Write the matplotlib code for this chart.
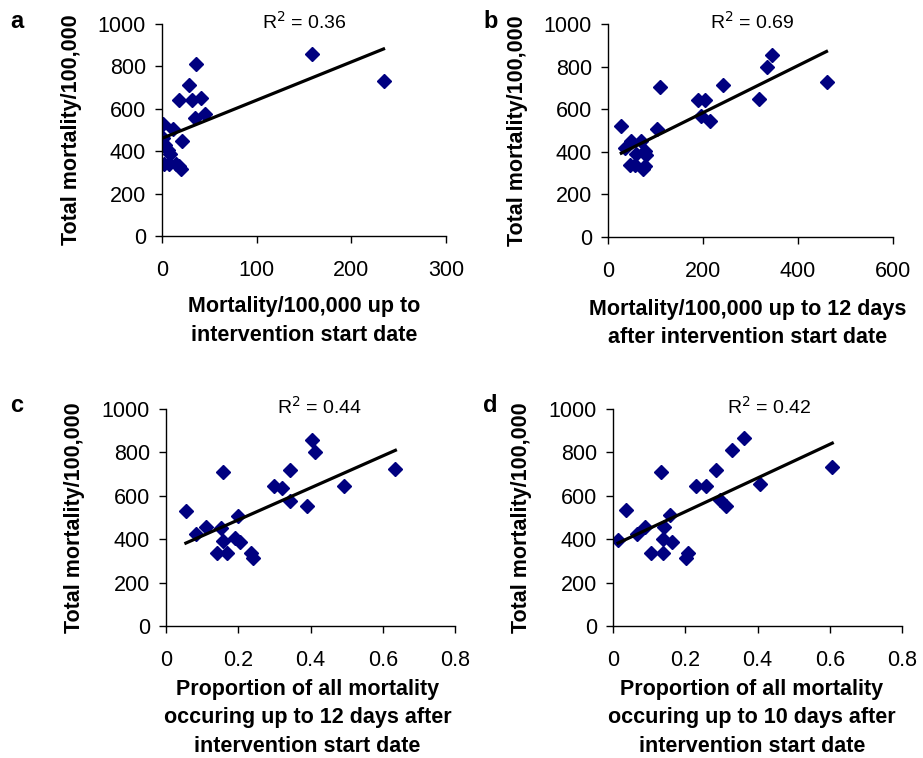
import matplotlib.pyplot as plt
import numpy as np

plt.rcParams['font.family'] = ['Liberation Sans', 'DejaVu Sans']

# Datos
y_total_a = [529, 505, 461, 430, 406, 387, 339, 340, 340, 332, 317, 449,
             643, 713, 643, 811, 650, 556, 576, 858, 729]
x_a = [1.4, 12, 0.7, 3.5, 6, 8.5, 2.5, 7.8, 15, 18, 20, 21,
       17.7, 29, 31.4, 36, 41, 35, 45, 158, 234]

x_b = [28, 35, 49, 70, 58, 77, 79, 46, 56, 74, 77, 103,
       110, 189, 204, 196, 214, 242, 318, 335, 346, 460]
y_b = [521, 420, 452, 452, 388, 404, 385, 339, 339, 319, 331, 505,
       704, 642, 642, 567, 546, 712, 650, 797, 855, 727]

x_c = [0.055, 0.083, 0.112, 0.152, 0.158, 0.158, 0.140, 0.170, 0.191, 0.200, 0.206,
       0.234, 0.240, 0.299, 0.320, 0.343, 0.343, 0.389, 0.403, 0.412, 0.492, 0.635]
y_c = [528, 425, 458, 451, 708, 394, 338, 338, 405, 508, 386,
       338, 312, 646, 635, 717, 574, 551, 858, 802, 646, 723]

x_d = [0.014, 0.037, 0.066, 0.089, 0.134, 0.140, 0.138, 0.106, 0.138, 0.159, 0.164,
       0.207, 0.203, 0.229, 0.258, 0.286, 0.297, 0.314, 0.330, 0.362, 0.406, 0.607]
y_d = [397, 535, 425, 458, 708, 455, 400, 338, 338, 512, 386,
       338, 312, 646, 646, 717, 582, 551, 809, 866, 655, 732]

r2_labels = ['0.36', '0.69', '0.44', '0.42']
letters = ['a', 'b', 'c', 'd']
xlabels = ['Mortality/100,000 up to\nintervention start date',
           'Mortality/100,000 up to 12 days\nafter intervention start date',
           'Proportion of all mortality\noccuring up to 12 days after\nintervention start date',
           'Proportion of all mortality\noccuring up to 10 days after\nintervention start date']
xticks = [[0, 100, 200, 300], [0, 200, 400, 600],
          [0, 0.2, 0.4, 0.6, 0.8], [0, 0.2, 0.4, 0.6, 0.8]]
yticks = [0, 200, 400, 600, 800, 1000]

xs = [x_a, x_b, x_c, x_d]
ys = [y_total_a, y_b, y_c, y_d]

W, H = 923, 758
fig = plt.figure(figsize=(W / 100, H / 100), dpi=100)

# posiciones en pixeles: izquierda, derecha, arriba, abajo
boxes = [(162, 446, 24, 236), (608, 893, 24, 237),
         (166, 455, 409, 626), (613, 902, 409, 626)]
r2_x = [0.50, 0.505, 0.53, 0.54]
xlab_pos = [(0.50, -0.285), (0.49, -0.29), (0.49, -0.245), (0.48, -0.245)]
letter_pos = [(10, 21), (483, 21), (10, 405), (483, 405)]

for i in range(4):
    l, r, t, b = boxes[i]
    ax = fig.add_axes([l / W, (H - b) / H, (r - l) / W, (b - t) / H])
    x = np.array(xs[i])
    y = np.array(ys[i])
    ax.plot(x, y, linestyle='none', marker='D', markersize=7, color='#000080')
    m, c = np.polyfit(x, y, 1)
    xx = np.array([x.min(), x.max()])
    ax.plot(xx, m * xx + c, color='black', linewidth=2.3)

    ax.set_xlim(xticks[i][0], xticks[i][-1])
    ax.set_ylim(0, 1000)
    ax.set_xticks(xticks[i])
    ax.set_xticklabels([('%g' % v) for v in xticks[i]])
    ax.set_yticks(yticks)
    ax.tick_params(direction='out', length=5, width=1, labelsize=15.5)
    ax.tick_params(axis='x', pad=12)
    ax.tick_params(axis='y', pad=6.5)
    for s in ['top', 'right']:
        ax.spines[s].set_visible(False)
    for s in ['left', 'bottom']:
        ax.spines[s].set_linewidth(1)

    ax.set_ylabel('Total mortality/100,000', fontsize=15.5, fontweight='bold')
    ax.yaxis.set_label_coords(-0.28, 0.5)
    ax.set_xlabel(xlabels[i], fontsize=15.5, fontweight='bold', linespacing=1.45)
    ax.xaxis.set_label_coords(*xlab_pos[i])

    ax.text(r2_x[i], 1.01, 'R$^2$ = ' + r2_labels[i], transform=ax.transAxes,
            ha='center', va='center', fontsize=14)
    fig.text(letter_pos[i][0] / W, 1 - letter_pos[i][1] / H, letters[i],
             fontsize=17, fontweight='bold', va='center', ha='left')

fig.savefig('out.png', dpi=100)
